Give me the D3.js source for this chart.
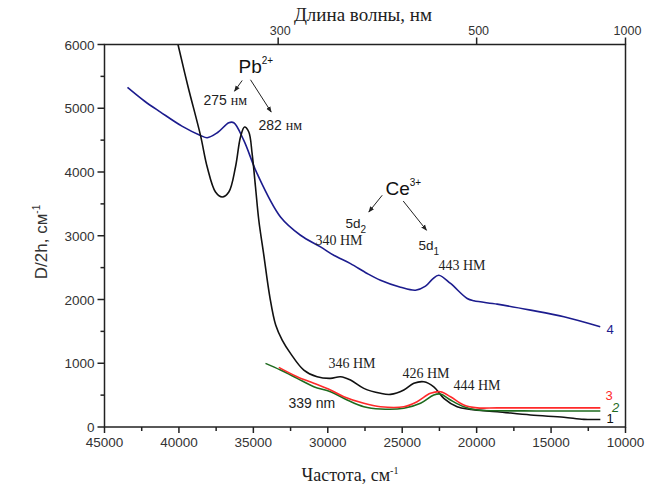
<!DOCTYPE html>
<html><head><meta charset="utf-8">
<script src="https://cdn.jsdelivr.net/npm/d3@7"></script>
<style>body{margin:0;background:#fff}svg{display:block}</style>
</head><body>
<svg id="c" width="647" height="488"></svg>
<script>
// ---- data (wavenumber cm^-1, D/2h cm^-1) ----
const curve1 = [[40265,6204],[40063,6000],[39391,5342],[38551,4574],[38100,4078],[37543,3686],[37093,3608],[36649,3686],[36200,4078],[35864,4548],[35595,4705],[35306,4627],[35083,4288],[34856,3765],[34634,3243],[34300,2700],[33900,2050],[33500,1600],[33063,1363],[32505,1155],[31610,893],[30716,788],[29817,763],[29146,788],[28474,736],[27580,606],[26458,528],[25787,512],[24891,580],[24220,685],[23548,710],[22878,631],[22206,450],[21310,318],[20410,277],[18618,240],[16380,188],[14145,152],[12800,120],[11690,118]];
const curve2 = [[34184,998],[33176,893],[32058,763],[30940,632],[29818,553],[28697,423],[27580,318],[26458,282],[24891,293],[23772,371],[22878,501],[22430,517],[21756,423],[20862,318],[19967,266],[18618,255],[16000,252],[13010,250],[11690,250]];
const curve3 = [[33291,935],[32058,788],[30940,685],[29818,580],[28920,475],[27580,371],[26458,318],[24891,318],[24000,397],[23100,528],[22430,553],[21756,475],[20862,345],[19967,300],[18618,300],[15000,300],[11690,300]];
const curve4 = [[43455,5327],[42300,5110],[41238,4940],[39800,4720],[38551,4574],[38100,4538],[37400,4620],[36649,4773],[36313,4773],[35642,4496],[34746,3974],[33176,3294],[31833,3008],[30489,2825],[29600,2694],[28474,2563],[27352,2408],[26460,2303],[25115,2193],[24107,2146],[23435,2209],[22966,2319],[22543,2381],[21756,2251],[20634,2016],[20190,1979],[18618,1927],[16375,1833],[14138,1728],[11697,1571]];
const seriesNames = ["1","2","3","4"];
const seriesColors = ["#111111","#1e6b1e","#ff2a2a","#1c1c8e"];
const seriesData = [curve1, curve2, curve3, curve4];
// series label anchors (nu, value)
const labelPos = [[11276,60],[10900,238],[11343,430],[11276,1457]];

const xTicks = [45000,40000,35000,30000,25000,20000,15000,10000];
const xMinor = [42500,37500,32500,27500,22500,17500,12500];
const yTicks = [0,1000,2000,3000,4000,5000,6000];
const yMinor = [500,1500,2500,3500,4500,5500];
const topTicks = [300,500,1000];

// annotations
const annotations = [
  {nu:29952, v:924, parts:[["346 НМ","serif"]]},
  {nu:24980, v:768, parts:[["426 НМ","serif"]]},
  {nu:21554, v:580, parts:[["444 НМ","serif"]]},
  {nu:32639, v:298, parts:[["339 nm","sans"]]},
  {nu:30825, v:2851, parts:[["340 НМ","serif"]]},
  {nu:22562, v:2460, parts:[["443 НМ","serif"]]},
  {nu:38349, v:5044, parts:[["275 ","sans"],["нм","serif"]]},
  {nu:34654, v:4653, parts:[["282 ","sans"],["нм","serif"]]}
];
const arrows = [
  [35750,5436,36267,5268],
  [35192,5447,33801,4940],
  [26344,3635,27245,3373],
  [24933,3545,23368,3086]
];

// ---- layout ----
const L=104.5, R=625.5, T=44.5, B=427;
const svg = d3.select("#c");
const x = d3.scaleLinear().domain([45000,10000]).range([L,R]);
const y = d3.scaleLinear().domain([0,6000]).range([B,T]);
const SANS = "Arial, 'Liberation Sans', sans-serif";
const SERIF = "'Times New Roman', 'Liberation Serif', serif";

svg.append("defs").append("marker").attr("id","ah").attr("viewBox","0 0 10 10")
  .attr("refX",9).attr("refY",5).attr("markerWidth",6).attr("markerHeight",6).attr("orient","auto")
  .append("path").attr("d","M0,1 L10,5 L0,9 z").attr("fill","#222");
svg.append("clipPath").attr("id","clip").append("rect").attr("x",L).attr("y",T).attr("width",R-L).attr("height",B-T);

// curves
const line = d3.line().x(d=>x(d[0])).y(d=>y(d[1])).curve(d3.curveCatmullRom.alpha(0.5));
const g = svg.append("g").attr("clip-path","url(#clip)");
[3,0,1,2].forEach(i=>{
  g.append("path").attr("d",line(seriesData[i])).attr("fill","none")
   .attr("stroke",seriesColors[i]).attr("stroke-width",1.6);
});

// axes
const ax = svg.append("g").attr("stroke","#222").attr("stroke-width",1.5);
ax.append("rect").attr("x",L).attr("y",T).attr("width",R-L).attr("height",B-T).attr("fill","none");
xTicks.forEach(t=>ax.append("line").attr("x1",x(t)).attr("x2",x(t)).attr("y1",B).attr("y2",B+6));
xMinor.forEach(t=>ax.append("line").attr("x1",x(t)).attr("x2",x(t)).attr("y1",B).attr("y2",B+4));
yTicks.forEach(t=>ax.append("line").attr("x1",L-7).attr("x2",L).attr("y1",y(t)).attr("y2",y(t)));
yMinor.forEach(t=>ax.append("line").attr("x1",L-4).attr("x2",L).attr("y1",y(t)).attr("y2",y(t)));
topTicks.forEach(t=>ax.append("line").attr("x1",x(1e7/t)).attr("x2",x(1e7/t)).attr("y1",T).attr("y2",T-7));

const lab = svg.append("g").attr("font-family",SANS).attr("font-size",13.5).attr("fill","#333");
xTicks.forEach(t=>lab.append("text").attr("x",x(t)).attr("y",B+20).attr("text-anchor","middle").text(t));
yTicks.forEach(t=>lab.append("text").attr("x",L-10).attr("y",y(t)+5).attr("text-anchor","end").text(t));
topTicks.forEach(t=>lab.append("text").attr("x",x(1e7/t)+2).attr("y",T-10).attr("text-anchor","middle").attr("font-size",12.5).text(t));

// axis titles
const xt = svg.append("text").attr("x",350).attr("y",481).attr("text-anchor","middle")
  .attr("font-family",SERIF).attr("font-size",18).attr("fill","#222");
xt.append("tspan").text("Частота, см");
xt.append("tspan").attr("dy",-7).attr("font-size",10).text("-1");
svg.append("text").attr("x",363).attr("y",21).attr("text-anchor","middle")
  .attr("font-family",SERIF).attr("font-size",19).attr("fill","#222").text("Длина волны, нм");
const yl = svg.append("text").attr("transform","translate(47,242) rotate(-90)").attr("text-anchor","middle")
  .attr("font-family",SANS).attr("font-size",17).attr("fill","#333");
yl.append("tspan").text("D/2h, см");
yl.append("tspan").attr("dy",-7).attr("font-size",10).text("-1");

// series labels
seriesNames.forEach((n,i)=>{
  svg.append("text").attr("x",x(labelPos[i][0])).attr("y",y(labelPos[i][1])).attr("font-family",SANS)
    .attr("font-size",13).attr("font-style", i===1?"italic":"normal").attr("fill",seriesColors[i]).text(n);
});

// ion labels
function ion(nu,v,base,sup){
  const t = svg.append("text").attr("x",x(nu)).attr("y",y(v)).attr("font-family",SANS).attr("font-size",19).attr("fill","#111");
  t.append("tspan").text(base);
  t.append("tspan").attr("dy",-9).attr("font-size",10).text(sup);
}
ion(35998,5546,"Pb","2+");
ion(26122,3635,"Ce","3+");
function sub(nu,v,d){
  const t = svg.append("text").attr("x",x(nu)).attr("y",y(v)).attr("font-family",SANS).attr("font-size",13.5).attr("fill","#222");
  t.append("tspan").text("5d");
  t.append("tspan").attr("dy",5).attr("font-size",10).text(d);
}
sub(28810,3118,"2");
sub(23906,2773,"1");

annotations.forEach(a=>{
  const t = svg.append("text").attr("x",x(a.nu)).attr("y",y(a.v)).attr("font-size",14).attr("fill","#222");
  a.parts.forEach(p=>t.append("tspan").attr("font-family",p[1]==="serif"?SERIF:SANS).text(p[0]));
});
arrows.forEach(a=>{
  svg.append("line").attr("x1",x(a[0])).attr("y1",y(a[1])).attr("x2",x(a[2])).attr("y2",y(a[3]))
    .attr("stroke","#222").attr("stroke-width",1).attr("marker-end","url(#ah)");
});
</script>
</body></html>
